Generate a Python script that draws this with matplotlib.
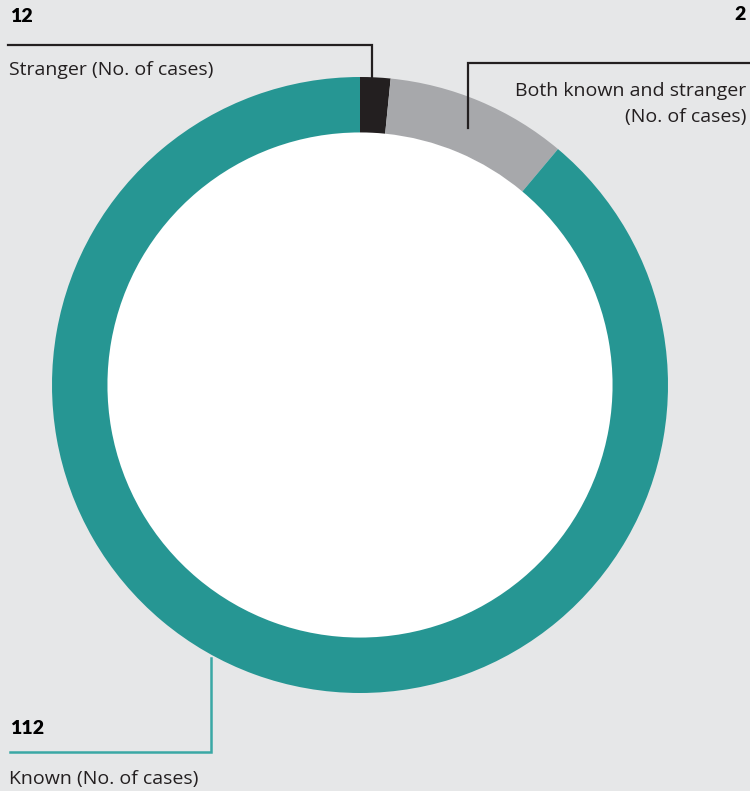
import numpy as np
import matplotlib.pyplot as plt

plt.rcParams['font.family'] = ['Open Sans', 'DejaVu Sans']

# slice order clockwise from 12 o'clock
values = [2, 12, 112]
colors = ['#231f20', '#a7a8ab', '#269693']
numbers = ['12', '2', '112']
labels = ['Stranger (No. of cases)', 'Both known and stranger\n(No. of cases)', 'Known (No. of cases)']

W, H = 750, 791
bg = '#e6e7e8'

fig = plt.figure(figsize=(W / 100, H / 100), dpi=100, facecolor=bg)
ax = fig.add_axes([0, 0, 1, 1])

cx, cy, r = 360, H - 385, 308
wedges, _ = ax.pie(values, colors=colors, startangle=90, counterclock=False,
                   center=(cx, cy), radius=r, frame=True,
                   wedgeprops=dict(width=r * 0.18, linewidth=0))
ax.add_patch(plt.Circle((cx, cy), r * 0.82, color='white', zorder=0))
ax.set_xlim(0, W)
ax.set_ylim(0, H)
ax.set_aspect('equal')
ax.axis('off')

def py(y):
    return H - y

numfont = dict(fontsize=14, fontweight='heavy', family=['Lato', 'DejaVu Sans'], va='center')
labfont = dict(fontsize=14, va='center', color='#231f20')

# Stranger leader
ax.plot([8, 372, 372], [py(45), py(45), py(78)], color='#231f20', lw=1.6,
        solid_joinstyle='miter')
ax.text(10, py(17), numbers[0], ha='left', **numfont)
ax.text(9, py(70), labels[0], ha='left', **labfont)

# Both leader
ax.plot([468, 468, 750], [py(128), py(63), py(63)], color='#231f20', lw=1.6,
        solid_joinstyle='miter')
ax.text(746, py(15), numbers[1], ha='right', **numfont)
ax.text(746, py(104), labels[1], ha='right', linespacing=1.55,
        multialignment='right', **labfont)

# Known leader
ax.plot([211, 211, 10], [py(658), py(752), py(752)], color='#3aa8a5', lw=1.8,
        solid_joinstyle='miter')
ax.text(10, py(728), numbers[2], ha='left', **numfont)
ax.text(9, py(779), labels[2], ha='left', **labfont)

fig.savefig('out.png', dpi=100, facecolor=bg)
